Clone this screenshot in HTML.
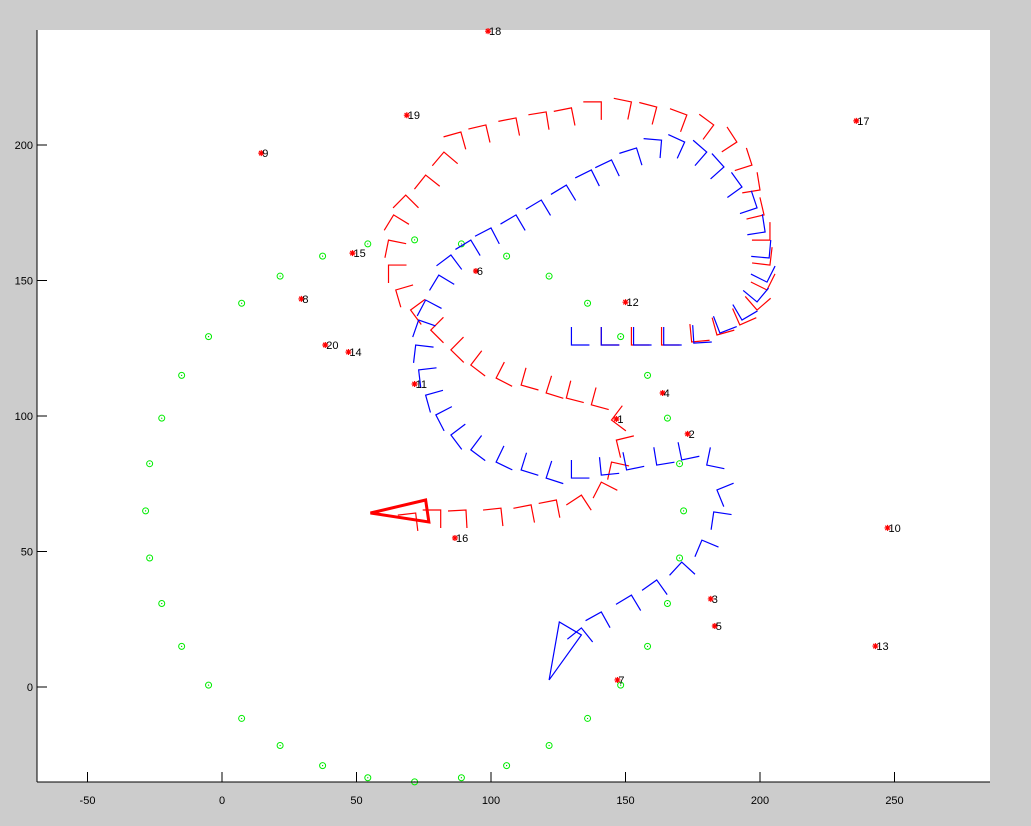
<!DOCTYPE html>
<html><head><meta charset="utf-8"><style>
body{margin:0;background:#cccccc;width:1031px;height:826px;overflow:hidden;font-family:"Liberation Sans",sans-serif}
svg{display:block}
text{font-family:"Liberation Sans",sans-serif;font-size:11px}
</style></head><body>
<svg id="chart" width="1031" height="826" xmlns="http://www.w3.org/2000/svg">
<rect x="37" y="30" width="953" height="752" fill="#fff"/>
<g id="marks"></g>
<line x1="37" y1="30" x2="37" y2="782" stroke="#000"/>
<line x1="37" y1="782" x2="990" y2="782" stroke="#000"/>
</svg>
<script>
const xTicks=[-50,0,50,100,150,200,250];
const yTicks=[0,50,100,150,200];
const lmX=[146.6,173.1,181.7,163.8,183.2,94.4,147,29.5,14.6,247.4,71.6,150,242.9,47,48.5,86.6,235.8,98.9,68.7,38.4];
const lmY=[98.9,93.4,32.5,108.5,22.5,153.5,2.6,143.2,197,58.7,111.8,142,15.1,123.6,160.1,55,208.9,242,211,126.2];
const lmLabels=["1","2","3","4","5","6","7","8","9","10","11","12","13","14","15","16","17","18","19","20"];
const gX=[171.6,170.1,165.6,158.2,148.2,135.9,121.6,105.8,89,71.6,54.2,37.4,21.6,7.3,-5,-15,-22.4,-26.9,-28.4,-26.9,-22.4,-15,-5,7.3,21.6,37.4,54.2,71.6,89,105.8,121.6,135.9,148.2,158.2,165.6,170.1];
const gY=[65,82.4,99.2,115,129.3,141.6,151.6,159,163.5,165,163.5,159,151.6,141.6,129.3,115,99.2,82.4,65,47.6,30.8,15,0.7,-11.6,-21.6,-29,-33.5,-35,-33.5,-29,-21.6,-11.6,0.7,15,30.8,47.6];
const redX=[72,81.3,90.7,103.7,114.9,124.3,133.6,141,144.8,146.6,144.8,137.3,128,120.5,111.2,101.9,92.5,85.1,77.6,70.1,64.6,61.9,61.9,63.8,68.3,75.7,82.5,88.8,98.1,109.3,120.5,129.9,141,152.2,161.6,172.8,182.8,191.4,197,200,201.5,203.7,203.7,202.6,198.9,192.5,184,174.6,163.4,152.2,141];
const redY=[64.2,65.3,65.3,66,67.2,69,70.8,75.6,83,91.1,98.5,104.1,106.6,108.5,111.4,114,118.8,124.4,131.7,139.1,146.5,155.7,164.9,174.2,181.5,188.9,197.4,204.8,207.4,210,212.2,213.7,215.9,215.9,214,211.1,207.4,201.1,192.6,183.4,174.2,164.9,155.7,146.5,139.1,133.6,129.9,127.3,126.2,126.2,126.2];
const blueX=[133.6,141,152.2,161.6,170.9,178.4,182.8,184,180.2,170.9,161.6,150.4,141,129.9,120.5,111.2,101.9,92.5,85.1,79.5,75.7,73.1,72,73.1,75.7,80.6,85.1,92.5,100,109.3,118.7,128,137.3,144.8,154.1,163.4,172,180.2,186.6,193.3,198.9,201.9,203.4,202.6,198.9,193.3,185.1,175.4,164.2,153,141,129.9];
const blueY=[21.8,27.7,33.9,39.5,46.1,54.2,64.6,72.7,81.9,83.8,81.9,80.1,78.2,77.1,77.1,80.1,83,87.5,93,100.4,107.7,117,126.2,135.4,142.8,152,159.4,164.9,169.4,174.2,179.7,185.2,190.8,194.5,198.9,201.8,201.1,197.4,191.9,184.5,176.8,167.9,158.3,149.4,142.1,135.4,130.6,126.9,126.2,126.2,126.2,126.2];
const redTriX=[55.2,75.7,76.9];
const redTriY=[64.2,69,60.9];
const blueTriX=[121.6,125.4,133.6];
const blueTriY=[2.6,24,19.2];

const NS="http://www.w3.org/2000/svg";
const sx=v=>222+v*2.69;
const sy=v=>687-v*2.71;
const svg=document.getElementById('chart');
const g=document.getElementById('marks');
function mk(tag,attrs,parent){const e=document.createElementNS(NS,tag);for(const k in attrs)e.setAttribute(k,attrs[k]);(parent||g).appendChild(e);return e;}

xTicks.forEach(t=>{
  const l=mk('line',{x1:sx(t),x2:sx(t),y1:782,y2:772,stroke:'#000'},svg);
  
  
  const tx=mk('text',{x:sx(t),y:804,'text-anchor':'middle'},svg);tx.textContent=t;
  
  
});
yTicks.forEach(t=>{
  const l=mk('line',{x1:37,x2:47,y1:sy(t),y2:sy(t),stroke:'#000'},svg);
  
  
  const tx=mk('text',{x:33,y:sy(t)+4,'text-anchor':'end'},svg);tx.textContent=t;
  
  
});

gX.forEach((x,i)=>{
  const c=mk('circle',{cx:sx(x),cy:sy(gY[i]),r:3,fill:'none',stroke:'#00ee00','stroke-width':1});
  
  
  const d=mk('circle',{cx:sx(x),cy:sy(gY[i]),r:0.6,fill:'#00aa00'});
  
  
});

function path(xs,ys,color,name){
  const n=xs.length;
  for(let i=0;i<n;i++){
    const a=i<n-1?i:i-1,b=a+1;
    let dx=sx(xs[b])-sx(xs[a]),dy=sy(ys[b])-sy(ys[a]);
    const L=Math.hypot(dx,dy)||1;dx/=L;dy/=L;
    const px=sx(xs[i]),py=sy(ys[i]),len=18;
    const a1x=px-dx*len,a1y=py-dy*len;
    const a2x=px-dy*len,a2y=py+dx*len;
    const p=mk('polyline',{points:`${a1x},${a1y} ${px},${py} ${a2x},${a2y}`,fill:'none',stroke:color,'stroke-width':1.2});
    
    
  }
}
path(redX,redY,'#ff0000','red-pose-marker');
path(blueX,blueY,'#0000ff','blue-pose-marker');

const rt=mk('polygon',{points:redTriX.map((x,i)=>sx(x)+','+sy(redTriY[i])).join(' '),fill:'none',stroke:'#ff0000','stroke-width':3});


const bt=mk('polygon',{points:blueTriX.map((x,i)=>sx(x)+','+sy(blueTriY[i])).join(' '),fill:'none',stroke:'#0000ff','stroke-width':1.2});



lmX.forEach((x,i)=>{
  const X=sx(x),Y=sy(lmY[i]);
  const s=mk('path',{d:`M${X-3},${Y}H${X+3}M${X},${Y-3}V${Y+3}M${X-2.2},${Y-2.2}L${X+2.2},${Y+2.2}M${X-2.2},${Y+2.2}L${X+2.2},${Y-2.2}`,stroke:'#ff0000','stroke-width':1.2,fill:'none'});
  
  
  const t=mk('text',{x:X+1,y:Y+4});t.textContent=lmLabels[i];
  
  
});
</script>
</body></html>
